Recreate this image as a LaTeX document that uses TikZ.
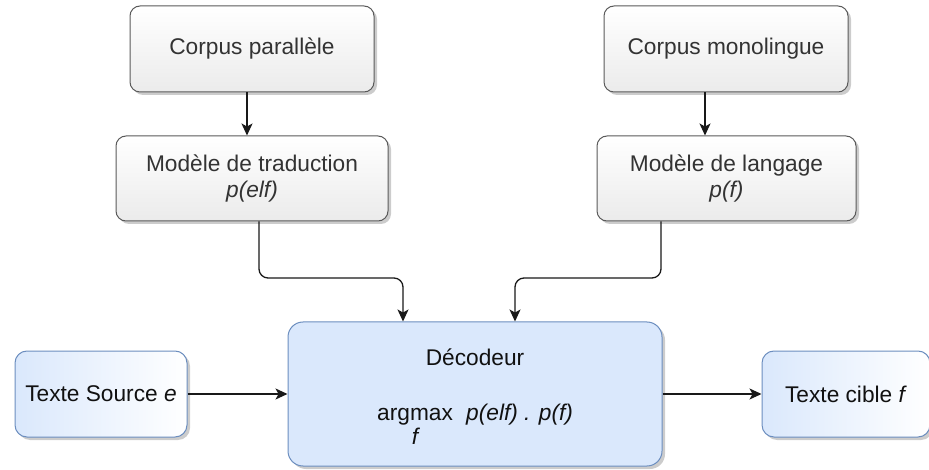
\documentclass[tikz,border=0pt]{standalone}
\usepackage{fontspec}
\setmainfont{Liberation Sans}
\usetikzlibrary{arrows.meta,shadows}
\definecolor{grayborder}{HTML}{5A5A5A}
\definecolor{grayfill}{HTML}{EBEBEB}
\definecolor{bluefill}{HTML}{DAE8FC}
\definecolor{blueborder}{HTML}{6C8EBF}
\definecolor{txt}{HTML}{111111}
\definecolor{graytxt}{HTML}{333333}
\tikzset{
  boxshadow/.style={drop shadow={shadow xshift=3pt, shadow yshift=-3pt, fill=black, opacity=0.2}},
  graybox/.style={draw=grayborder, line width=1pt, rounded corners=10pt, top color=white, bottom color=grayfill, boxshadow, align=center, inner sep=0pt, text=graytxt},
  bluebox/.style={draw=blueborder, line width=1pt, rounded corners=15pt, fill=bluefill, boxshadow, inner sep=0pt},
  textbox/.style={draw=blueborder, line width=1pt, rounded corners=12pt, left color=bluefill, right color=white, boxshadow, inner sep=0pt, text=txt},
  plain/.style={inner sep=0pt, anchor=base west, text=txt},
  arr/.style={draw=black!90, line width=1.3pt, -{Stealth[length=12pt,width=11pt,inset=3pt]}},
}
\begin{document}
\begin{tikzpicture}[x=1pt,y=-1pt,font=\fontsize{22.7}{26.5}\selectfont]
\useasboundingbox (0,0) rectangle (929,470);
\node[graybox, minimum width=244, minimum height=86] (cp) at (252,49) {Corpus parallèle};
\node[graybox, minimum width=244, minimum height=86] (cm) at (726,49) {Corpus monolingue};
\node[graybox, minimum width=272, minimum height=85] (mt) at (252,178.5) {Modèle de traduction\\\textit{p(elf)}};
\node[graybox, minimum width=259, minimum height=85] (ml) at (726.5,178.5) {Modèle de langage\\\textit{p(f)}};
\node[bluebox, minimum width=374, minimum height=144] (dec) at (475,394) {};
\node[textbox, minimum width=172, minimum height=86] (src) at (101,394) {Texte Source \textit{e}};
\node[textbox, minimum width=168, minimum height=86] (tgt) at (846,394) {Texte cible \textit{f}};
\node[inner sep=0pt, anchor=base, text=txt] (dname) at (475,365) {Décodeur};
\node[plain] (argm) at (377,420) {argmax};
\node[plain] (prob) at (466,420) {\textit{p(elf) . p(f)}};
\node[inner sep=0pt, anchor=base, text=txt] (sub) at (416,444) {\textit{f}};
\draw[arr] (cp.south -| 247,0) -- (mt.north -| 247,0);
\draw[arr] (cm.south -| 705,0) -- (ml.north -| 705,0);
\draw[arr, rounded corners=9pt] (mt.south -| 259,0) -- (259,278) -- (403,278) -- (dec.north -| 403,0);
\draw[arr, rounded corners=9pt] (ml.south -| 661,0) -- (661,278) -- (515,278) -- (dec.north -| 515,0);
\draw[arr] (src.east) -- (dec.west);
\draw[arr] (dec.east) -- (tgt.west);
\end{tikzpicture}
\end{document}
